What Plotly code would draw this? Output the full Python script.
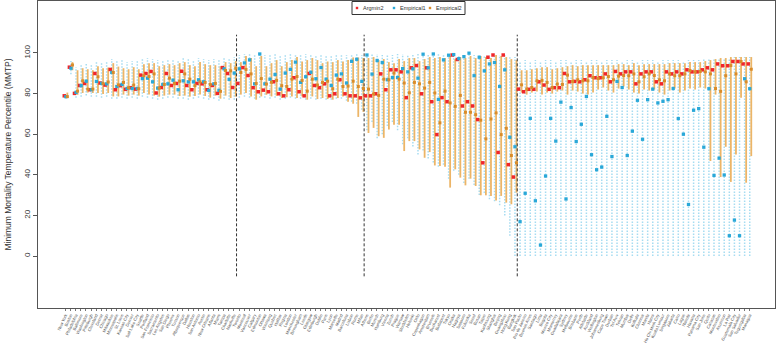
import plotly.graph_objects as go

# ---------------- data ----------------
cities_g1 = ["New York", "Boston", "Philadelphia", "Baltimore", "Washington", "Pittsburgh", "Cleveland",
             "Detroit", "Chicago", "Milwaukee", "Minneapolis", "St. Louis", "Kansas City", "Denver",
             "Salt Lake City", "Seattle", "Portland", "San Francisco", "Sacramento", "Los Angeles",
             "San Diego", "Phoenix", "Tucson", "Albuquerque", "Dallas", "Houston", "San Antonio", "Austin",
             "New Orleans", "Atlanta", "Miami", "Tampa", "Charlotte", "Nashville"]
cities_g2 = ["Toronto", "Montreal", "Vancouver", "Calgary", "Edmonton", "Ottawa", "Winnipeg", "Quebec",
             "Halifax", "Regina", "London", "Manchester", "Birmingham", "Leeds", "Glasgow", "Edinburgh",
             "Dublin", "Paris", "Lyon", "Marseille", "Madrid", "Barcelona", "Lisbon", "Rome", "Milan"]
cities_g3 = ["Athens", "Berlin", "Munich", "Hamburg", "Vienna", "Zurich", "Prague", "Warsaw", "Stockholm",
             "Helsinki", "Oslo", "Copenhagen", "Amsterdam", "Brussels", "Bucharest", "Budapest", "Tokyo",
             "Osaka", "Nagoya", "Sapporo", "Fukuoka", "Seoul", "Busan", "Taipei", "Kaohsiung", "Shanghai",
             "Beijing", "Guangzhou", "Hong Kong", "Bangkok"]
cities_g4 = ["Sao Paulo", "Rio de Janeiro", "Buenos Aires", "Santiago", "Lima", "Bogota", "Mexico City",
             "Monterrey", "Guadalajara", "Sydney", "Melbourne", "Brisbane", "Perth", "Adelaide", "Auckland",
             "Wellington", "Johannesburg", "Cape Town", "Durban", "Tel Aviv", "Tehran", "Mumbai", "Delhi",
             "Kolkata", "Chennai", "Manila", "Hanoi", "Ho Chi Minh City", "Kuala Lumpur", "Singapore",
             "Jakarta", "Cairo", "Lagos", "Nairobi", "Havana", "Panama City", "San Jose", "Quito", "Caracas",
             "Montevideo", "Asuncion", "La Paz", "Guatemala City", "San Salvador", "Tegucigalpa", "Managua"]

# Argmin2 (red points)
argmin2_g1 = [78.9, 93.0, 80.1, 84.0, 85.0, 81.9, 89.9, 85.2, 84.2, 91.9, 81.9, 83.9, 82.1, 82.9, 82.2, 89.1, 89.9,
              90.9, 80.3, 83.0, 89.9, 84.0, 85.0, 91.0, 84.0, 81.9, 85.0, 84.8, 81.9, 84.0, 80.1, 92.8, 89.9, 83.0]
argmin2_g2 = [85.0, 92.8, 88.9, 82.9, 80.9, 81.7, 80.9, 85.8, 79.9, 78.9, 81.9, 87.8, 80.9, 78.9, 89.9, 84.0, 82.9,
              84.8, 78.9, 79.9, 86.8, 79.9, 78.9, 78.9, 77.9]
argmin2_g3 = [78.9, 78.9, 79.9, 89.7, 81.9, 91.7, 91.7, 90.7, 78.0, 92.7, 93.8, 79.9, 92.7, 76.0, 59.8, 78.0, 76.0,
              99.0, 96.8, 73.9, 76.0, 73.9, 67.2, 45.9, 97.9, 99.0, 51.0, 99.0, 45.0, 38.9]
argmin2_g4 = [82.2, 80.9, 82.1, 82.1, 85.8, 84.2, 82.1, 82.9, 82.9, 89.9, 85.8, 86.0, 85.8, 86.8, 88.8, 87.8, 87.8,
              89.7, 85.8, 90.9, 89.7, 90.7, 90.7, 84.8, 89.7, 90.7, 90.7, 85.8, 84.8, 90.7, 89.7, 90.7, 89.7, 91.7,
              90.7, 90.7, 91.7, 92.7, 91.7, 94.6, 93.7, 93.7, 95.8, 95.8, 94.6, 94.6]

# Empirical1 (blue points + dotted intervals)
emp1_g1 = [78.5, 92.5, 80.6, 83.9, 86.1, 81.9, 86.0, 85.0, 84.8, 90.4, 83.5, 84.5, 82.5, 82.5, 82.5, 87.4, 87.6,
           85.8, 82.7, 84.5, 84.8, 86.6, 81.9, 86.3, 85.8, 85.8, 86.8, 85.8, 81.6, 84.8, 81.6, 92.2, 87.0, 90.1]
emp1_g2 = [92.2, 95.1, 96.6, 84.8, 99.5, 84.8, 87.1, 89.4, 82.2, 90.1, 91.9, 95.5, 85.5, 88.3, 90.5, 87.3, 92.8,
           87.1, 84.0, 89.1, 89.7, 85.2, 95.9, 96.9, 86.0]
emp1_g3 = [99.0, 89.6, 96.3, 95.3, 86.8, 87.9, 87.9, 92.3, 90.7, 92.2, 87.6, 99.4, 92.7, 99.5, 77.1, 96.6, 98.9,
           99.2, 97.2, 98.2, 99.9, 88.8, 97.9, 91.2, 94.6, 95.3, 83.5, 91.7, 58.5, 53.8]
emp1_g4 = [16.9, 30.9, 67.8, 27.2, 5.4, 39.4, 67.8, 56.6, 75.8, 28.1, 73.1, 56.4, 64.9, 78.6, 49.9, 42.5, 43.8,
           68.8, 49.0, 86.0, 83.0, 49.5, 61.5, 76.7, 57.5, 77.0, 82.2, 75.4, 76.2, 77.0, 82.5, 67.7, 60.0, 25.4,
           71.8, 72.6, 53.6, 82.4, 39.7, 48.2, 39.9, 10.0, 17.7, 10.0, 87.3, 82.4]
emp1_lo_g1 = [77.5, 89.5, 78.0, 78.5, 79.0, 78.5, 78.5, 78.0, 78.5, 77.5, 77.5, 78.0, 77.5, 78.0, 77.5, 78.5, 78.0,
              77.5, 77.0, 77.5, 78.0, 78.0, 77.5, 77.5, 77.0, 77.5, 78.0, 77.5, 77.0, 77.5, 76.5, 77.5, 77.0, 77.0]
emp1_hi_g1 = [80.0, 96.0, 93.0, 94.0, 95.0, 94.5, 96.0, 95.5, 96.0, 97.0, 96.0, 96.5, 95.5, 96.0, 96.0, 97.0, 97.5,
              97.0, 96.5, 96.5, 97.0, 97.0, 96.5, 97.5, 97.0, 96.5, 97.5, 97.0, 96.5, 97.0, 96.5, 98.0, 97.5, 98.0]
emp1_lo_g2 = [78.0, 78.5, 78.0, 77.5, 78.0, 78.0, 77.5, 78.0, 77.0, 77.5, 78.0, 77.5, 77.5, 77.0, 77.5, 77.0, 77.5,
              77.0, 77.0, 77.5, 77.5, 76.5, 76.0, 75.0, 72.0]
emp1_hi_g2 = [99.0, 99.5, 99.5, 99.0, 100.0, 99.0, 99.5, 99.5, 99.0, 99.5, 99.5, 99.5, 99.0, 99.5, 99.5, 99.0, 99.5,
              99.0, 99.0, 99.5, 99.5, 99.0, 99.5, 99.5, 99.0]
emp1_lo_g3 = [62.0, 66.0, 58.0, 60.0, 64.0, 66.0, 62.0, 55.0, 58.0, 54.0, 50.0, 52.0, 48.0, 46.0, 44.0, 45.0, 38.0,
              42.0, 40.0, 36.0, 38.0, 35.0, 30.0, 31.0, 28.0, 27.0, 25.0, 20.0, 10.0, 0.0]
emp1_hi_g3 = [99.0, 99.5, 99.5, 99.0, 99.5, 99.0, 99.5, 99.5, 99.0, 99.5, 99.5, 99.5, 99.0, 99.5, 99.5, 99.0, 99.5,
              99.5, 99.0, 99.5, 99.5, 99.0, 99.5, 99.0, 99.0, 99.5, 99.0, 99.0, 98.5, 98.0]
emp1_lo_g4 = [0.0, 0.0, 0.0, 0.0, 0.0, 0.0, 0.0, 0.0, 0.0, 0.0, 0.0, 0.0, 0.0, 0.0, 0.0, 0.0, 0.0, 0.0, 0.0, 0.0,
              0.0, 0.0, 0.0, 0.0, 0.0, 0.0, 0.0, 0.0, 0.0, 0.0, 0.0, 0.0, 0.0, 0.0, 0.0, 0.0, 0.0, 0.0, 0.0, 0.0,
              0.0, 0.0, 0.0, 0.0, 0.0, 0.0]
emp1_hi_g4 = [96.0, 96.5, 96.0, 96.5, 96.0, 96.5, 96.5, 96.0, 96.5, 96.5, 96.0, 96.5, 96.5, 96.0, 96.5, 96.5, 96.0,
              96.5, 96.5, 96.5, 96.0, 96.5, 96.5, 96.0, 96.5, 96.5, 96.5, 96.0, 96.5, 96.5, 96.5, 96.5, 96.0, 96.5,
              96.5, 96.5, 97.0, 97.0, 97.0, 97.5, 97.5, 97.5, 98.0, 98.0, 98.0, 98.0]

# Empirical2 (orange points + solid intervals)
emp2_g1 = [78.5, 94.1, 81.2, 86.3, 82.2, 82.2, 88.3, 85.0, 85.7, 90.4, 84.3, 85.5, 82.9, 84.2, 82.4, 88.8, 88.4,
           89.7, 82.7, 84.5, 87.6, 85.0, 86.1, 89.7, 87.1, 83.9, 85.8, 85.5, 84.5, 85.0, 81.1, 91.4, 91.2, 92.5]
emp2_g2 = [90.4, 91.9, 89.7, 85.0, 87.4, 84.7, 85.6, 86.5, 83.9, 83.5, 87.1, 88.4, 86.5, 81.2, 87.1, 84.2, 85.5,
           86.1, 82.4, 87.1, 83.5, 83.7, 86.1, 83.5, 82.5]
emp2_g3 = [82.2, 79.8, 79.1, 87.1, 86.8, 90.1, 87.1, 85.2, 80.4, 85.5, 84.8, 82.7, 85.5, 80.3, 65.6, 81.2, 75.4,
           73.7, 79.1, 70.8, 70.8, 69.6, 66.9, 57.7, 67.5, 70.5, 59.8, 62.9, 49.5, 45.9]
emp2_g4 = [84.3, 82.2, 83.0, 86.3, 86.5, 85.5, 83.0, 84.7, 84.5, 89.1, 86.0, 86.8, 86.3, 86.3, 87.9, 87.4, 87.8,
           88.4, 86.8, 88.6, 88.9, 88.8, 89.7, 85.8, 88.3, 89.7, 88.9, 86.8, 86.3, 89.7, 88.8, 88.8, 89.7, 91.4,
           90.7, 90.9, 90.7, 89.7, 82.5, 81.1, 88.8, 93.8, 89.7, 95.8, 85.8, 92.0]
emp2_lo_g1 = [77.8, 91.5, 79.4, 80.3, 80.5, 80.3, 80.3, 79.8, 80.3, 78.6, 78.6, 79.5, 79.0, 79.5, 79.0, 80.3, 79.5,
              79.0, 78.5, 79.0, 79.5, 79.5, 78.8, 79.0, 78.5, 78.8, 79.5, 78.8, 78.0, 79.0, 77.5, 79.0, 77.8, 78.5]
emp2_hi_g1 = [80.5, 95.5, 91.5, 92.5, 92.0, 91.5, 93.5, 92.5, 92.8, 95.0, 93.3, 92.5, 92.0, 93.0, 92.0, 94.5, 95.0,
              95.0, 93.5, 94.0, 94.5, 94.0, 95.0, 95.5, 94.0, 93.5, 95.5, 94.5, 94.0, 94.0, 93.5, 95.5, 95.0, 96.0]
emp2_lo_g2 = [79.5, 80.3, 78.6, 77.0, 78.6, 79.4, 78.6, 78.9, 77.8, 78.2, 78.6, 77.8, 78.6, 77.0, 78.6, 77.3, 77.8,
              77.3, 77.0, 77.8, 78.6, 76.0, 75.0, 68.5, 71.0]
emp2_hi_g2 = [95.5, 98.5, 97.5, 93.5, 98.5, 93.5, 95.0, 96.5, 93.5, 95.5, 96.5, 98.0, 95.8, 96.5, 97.5, 96.5, 95.0,
              95.8, 95.5, 96.5, 95.8, 96.5, 97.8, 97.8, 97.5]
emp2_lo_g3 = [60.6, 63.1, 59.0, 58.2, 62.3, 64.7, 64.7, 51.7, 56.6, 56.6, 52.5, 48.4, 51.2, 44.6, 44.3, 44.0, 33.7,
              42.7, 38.6, 34.8, 38.1, 34.5, 29.9, 29.9, 29.6, 27.3, 29.6, 26.3, 25.5, 31.2]
emp2_hi_g3 = [97.5, 98.0, 96.5, 97.0, 95.5, 95.0, 97.0, 96.0, 97.5, 97.5, 96.0, 97.0, 98.0, 97.5, 98.0, 97.5, 98.5,
              97.0, 98.0, 97.5, 98.5, 97.5, 98.5, 98.0, 97.5, 99.0, 98.5, 98.0, 97.0, 96.5]
emp2_lo_g4 = [80.5, 79.5, 80.5, 81.0, 79.5, 80.5, 80.0, 81.0, 81.5, 79.5, 81.5, 81.0, 80.0, 79.5, 80.5, 82.0, 83.0,
              81.5, 80.5, 82.5, 83.5, 82.0, 80.5, 80.0, 82.0, 81.5, 82.0, 80.5, 79.5, 81.5, 82.5, 80.5, 81.5, 82.5,
              82.0, 83.0, 82.5, 46.8, 79.5, 38.9, 53.8, 36.5, 50.0, 78.0, 36.1, 49.2]
emp2_hi_g4 = [91.5, 91.5, 92.0, 92.5, 93.0, 93.0, 92.0, 92.5, 93.0, 93.5, 94.0, 93.5, 94.0, 94.0, 94.0, 94.0, 94.0,
              94.0, 94.0, 94.5, 94.5, 94.0, 95.0, 94.0, 94.5, 94.5, 94.5, 94.5, 94.5, 95.0, 95.0, 95.0, 95.0, 95.5,
              95.5, 95.5, 96.0, 96.5, 97.0, 97.5, 97.5, 98.0, 98.0, 98.0, 98.0, 98.0]

series_names = ["Argmin2", "Empirical1", "Empirical2"]
separator_span = [-10, 109]
y_ticks = [0, 20, 40, 60, 80, 100]

# ---------------- styles ----------------
C_RED, C_BLUE, C_ORANGE = "#f0262a", "#2aa8d8", "#d98c2a"
C_BLUE_CI, C_ORANGE_CI = "#a6dcf1", "#ecb567"

# ---------------- assemble ----------------
groups = [cities_g1, cities_g2, cities_g3, cities_g4]
cities = cities_g1 + cities_g2 + cities_g3 + cities_g4
argmin2 = argmin2_g1 + argmin2_g2 + argmin2_g3 + argmin2_g4
emp1 = emp1_g1 + emp1_g2 + emp1_g3 + emp1_g4
emp1_lo = emp1_lo_g1 + emp1_lo_g2 + emp1_lo_g3 + emp1_lo_g4
emp1_hi = emp1_hi_g1 + emp1_hi_g2 + emp1_hi_g3 + emp1_hi_g4
emp2 = emp2_g1 + emp2_g2 + emp2_g3 + emp2_g4
emp2_lo = emp2_lo_g1 + emp2_lo_g2 + emp2_lo_g3 + emp2_lo_g4
emp2_hi = emp2_hi_g1 + emp2_hi_g2 + emp2_hi_g3 + emp2_hi_g4

n = len(cities)
idx = list(range(1, n + 1))
OFF_R, OFF_B, OFF_O = -0.25, 0.05, 0.35


def seg(xs, lo, hi):
    X, Y = [], []
    for x, a, b in zip(xs, lo, hi):
        X += [x, x, None]
        Y += [a, b, None]
    return X, Y


xb = [i + OFF_B for i in idx]
xo = [i + OFF_O for i in idx]
xr = [i + OFF_R for i in idx]

fig = go.Figure()

bx, by = seg(xb, emp1_lo, emp1_hi)
fig.add_trace(go.Scatter(x=bx, y=by, mode="lines", showlegend=False, hoverinfo="skip",
                         line=dict(color=C_BLUE_CI, width=1.5, dash="1.5px,1.5px")))
ox, oy = seg(xo, emp2_lo, emp2_hi)
fig.add_trace(go.Scatter(x=ox, y=oy, mode="lines", showlegend=False, hoverinfo="skip",
                         line=dict(color=C_ORANGE_CI, width=1.8)))

# group separators
bounds = []
c = 0
for g in groups[:-1]:
    c += len(g)
    bounds.append(c + 0.5)
sx, sy = seg(bounds, [separator_span[0]] * len(bounds), [separator_span[1]] * len(bounds))
fig.add_trace(go.Scatter(x=sx, y=sy, mode="lines", showlegend=False, hoverinfo="skip",
                         line=dict(color="#333333", width=1, dash="3px,2px")))

fig.add_trace(go.Scatter(x=xr, y=argmin2, mode="markers", name=series_names[0], showlegend=False,
                         marker=dict(symbol="square", size=3.5, color=C_RED)))
fig.add_trace(go.Scatter(x=xb, y=emp1, mode="markers", name=series_names[1], showlegend=False,
                         marker=dict(symbol="square", size=3.3, color=C_BLUE)))
fig.add_trace(go.Scatter(x=xo, y=emp2, mode="markers", name=series_names[2], showlegend=False,
                         marker=dict(symbol="square", size=3, color=C_ORANGE)))

# ---------------- compact legend (R style) ----------------
L, R_, T, B = 38, 775, 1, 308          # plot area in pixels
W, H = R_ - L, B - T


def px(xp):
    return (xp - L) / W


def py(yp):
    return (B - yp) / H


shapes = [dict(type="rect", xref="paper", yref="paper", x0=px(352), x1=px(465), y0=py(14.5), y1=py(1.5),
               line=dict(color="#333333", width=1), fillcolor="white", layer="above")]
annotations = []
leg_x = [357, 394, 430]
for xs, name, col in zip(leg_x, series_names, [C_RED, C_BLUE, C_ORANGE]):
    shapes.append(dict(type="rect", xref="paper", yref="paper", x0=px(xs - 1.2), x1=px(xs + 1.2),
                       y0=py(9.2), y1=py(6.8), line=dict(width=0), fillcolor=col, layer="above"))
    annotations.append(dict(text=name, xref="paper", yref="paper", x=px(xs + 4), y=py(8), xanchor="left",
                            yanchor="middle", showarrow=False, font=dict(size=5.5, color="#333333")))

fig.update_layout(
    width=778, height=361, autosize=False,
    margin=dict(l=L, r=778 - R_, t=T, b=361 - B),
    paper_bgcolor="white", plot_bgcolor="white",
    font=dict(family="Liberation Sans, Arial, sans-serif", color="#333333"),
    showlegend=False,
    shapes=shapes, annotations=annotations,
    xaxis=dict(range=[-4.4, 140.0], showgrid=False, zeroline=False, automargin=False,
               tickmode="array", tickvals=idx, ticktext=cities, tickangle=-65,
               tickfont=dict(size=4.2, color="#555555"), ticks="outside", ticklen=2,
               tickcolor="#777777", tickwidth=0.5,
               showline=True, linecolor="#555555", linewidth=1, mirror=True),
    yaxis=dict(range=[-25.6, 125.6], showgrid=False, zeroline=False, automargin=False,
               tickmode="array", tickvals=y_ticks, tickangle=-90,
               tickfont=dict(size=8, color="#333333"), ticks="outside", ticklen=4,
               tickcolor="#555555",
               showline=True, linecolor="#555555", linewidth=1, mirror=True,
               title=dict(text="Minimum Mortality Temperature Percentile (MMTP)",
                          font=dict(size=8.5, color="#333333"), standoff=9)),
)

fig.write_html("out.html", config={"responsive": False, "displayModeBar": False},
               post_script="document.body.style.margin='0px';document.body.style.padding='0px';"
                           "document.body.style.overflow='hidden';")
